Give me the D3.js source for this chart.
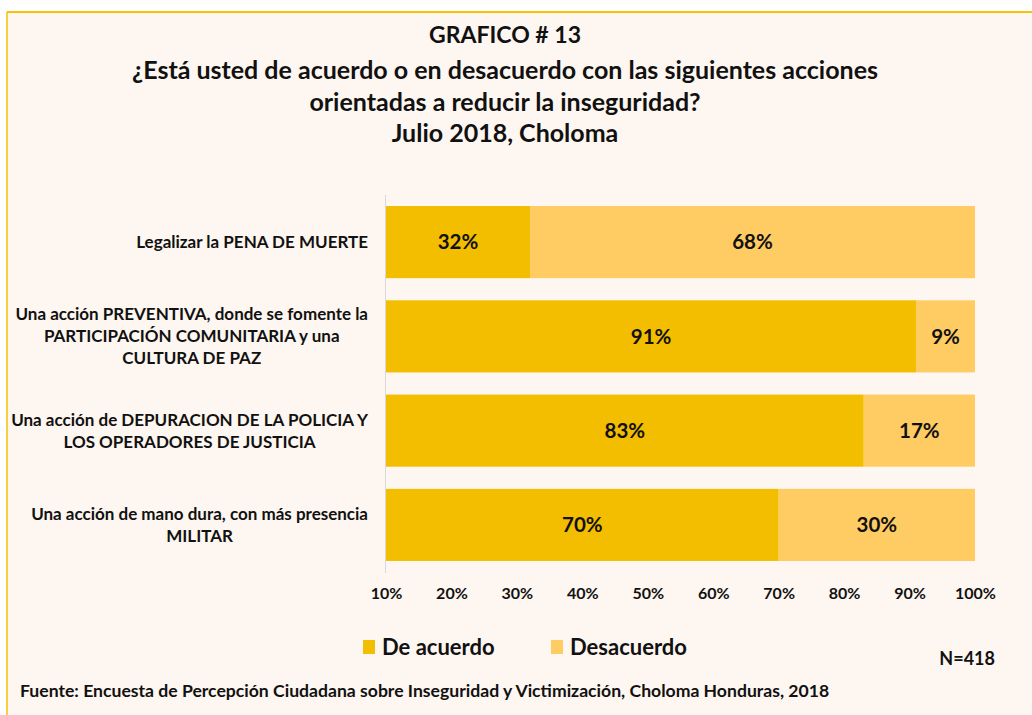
<!DOCTYPE html>
<html>
<head>
<meta charset="utf-8">
<script src="https://cdn.jsdelivr.net/npm/d3@7"></script>
<style>
  body { margin: 0; background: #fff; }
  text { font-family: Lato, "Open Sans", sans-serif; font-weight: bold; fill: #111; }
</style>
</head>
<body>
<script>
// Data
const categories = [
  ["Legalizar la PENA DE MUERTE"],
  ["Una acción PREVENTIVA, donde se fomente la", "PARTICIPACIÓN COMUNITARIA y una", "CULTURA DE PAZ"],
  ["Una acción de DEPURACION DE LA POLICIA Y", "LOS OPERADORES DE JUSTICIA"],
  ["Una acción de mano dura, con más presencia", "MILITAR"]
];
const deAcuerdo = [32, 91, 83, 70];
const desacuerdo = [68, 9, 17, 30];
const seriesNames = ["De acuerdo", "Desacuerdo"];
const tickValues = [10, 20, 30, 40, 50, 60, 70, 80, 90, 100];
const titleLines = [
  "GRAFICO # 13",
  "¿Está usted de acuerdo o en desacuerdo con las siguientes acciones",
  "orientadas a reducir la inseguridad?",
  "Julio 2018, Choloma"
];

const width = 1032, height = 715;
const colors = ["#F3BD00", "#FFCB63"];

const svg = d3.select("body").append("svg")
  .attr("width", width)
  .attr("height", height);

// background panel + border
svg.append("rect").attr("x", 7).attr("y", 12).attr("width", width - 7).attr("height", height - 12)
  .attr("fill", "#FEF6F0");
svg.append("line").attr("x1", 7).attr("x2", width).attr("y1", 12).attr("y2", 12)
  .attr("stroke", "#F5C400").attr("stroke-width", 2);
svg.append("line").attr("x1", 7).attr("x2", 7).attr("y1", 12).attr("y2", height)
  .attr("stroke", "#F5C400").attr("stroke-width", 1.5);

// title
svg.selectAll(".title")
  .data(titleLines)
  .enter().append("text")
  .attr("class", "title")
  .attr("x", 505)
  .attr("y", (d, i) => i === 0 ? 43 : 79 + (i - 1) * 31.5)
  .attr("text-anchor", "middle")
  .style("font-size", (d, i) => i === 0 ? "23px" : "25px")
  .text(d => d);

// scales
const rows = categories.map((c, i) => ({ i, label: c, a: deAcuerdo[i], d: desacuerdo[i] }));

const x = d3.scaleLinear().domain([10, 100]).range([386, 975]).clamp(true);
const y = d3.scaleBand().domain(d3.range(categories.length)).range([195, 572]).paddingInner(0.235).paddingOuter(0.117);

const stack = d3.stack().keys(["a", "d"]);
const stacked = stack(rows);

const groups = svg.selectAll(".series")
  .data(stacked)
  .enter().append("g")
  .attr("fill", (d, i) => colors[i]);

groups.selectAll("rect")
  .data(d => d)
  .enter().append("rect")
  .attr("x", d => x(d[0]))
  .attr("y", d => y(d.data.i))
  .attr("width", d => x(d[1]) - x(d[0]))
  .attr("height", y.bandwidth());

groups.selectAll(".val")
  .data(d => d)
  .enter().append("text")
  .attr("class", "val")
  .attr("x", d => (x(d[0]) + x(d[1])) / 2)
  .attr("y", d => y(d.data.i) + y.bandwidth() / 2)
  .attr("dy", "0.35em")
  .attr("text-anchor", "middle")
  .style("font-size", "20.5px")
  .text(d => (d[1] - d[0]) + "%");

// vertical axis line
svg.append("line")
  .attr("x1", 385.5).attr("x2", 385.5)
  .attr("y1", 195).attr("y2", 573)
  .attr("stroke", "#d9d9d9");

// x axis
const xAxis = svg.append("g")
  .attr("transform", "translate(0,585)")
  .call(d3.axisBottom(x).tickValues(tickValues).tickSize(0).tickFormat(d => d + "%"));
xAxis.select(".domain").remove();
xAxis.selectAll("text")
  .style("font-size", "16px")
  .style("font-family", "Lato, sans-serif")
  .attr("fill", "#111");

// category labels: block right-aligned, lines centered in block
const labelRight = 368;
const lab = svg.append("g");
categories.forEach((lines, i) => {
  const g = lab.append("g");
  const cy = y(i) + y.bandwidth() / 2;
  const lh = 22;
  const t = g.selectAll("text").data(lines).enter().append("text")
    .attr("y", (d, j) => cy + (j - (lines.length - 1) / 2) * lh)
    .attr("dy", "0.35em")
    .attr("text-anchor", "middle")
    .style("font-size", "17px")
    .text(d => d);
  let maxW = 0;
  t.each(function() { maxW = Math.max(maxW, this.getComputedTextLength()); });
  t.attr("x", labelRight - maxW / 2);
});

// legend
const legend = svg.append("g");
const legendX = [363, 551];
seriesNames.forEach((name, i) => {
  legend.append("rect")
    .attr("x", legendX[i]).attr("y", 640)
    .attr("width", 12).attr("height", 14)
    .attr("fill", colors[i]);
  legend.append("text")
    .attr("x", legendX[i] + 19).attr("y", 647)
    .attr("dy", "0.35em")
    .style("font-size", "22px")
    .text(name);
});

// N and source
svg.append("text")
  .attr("x", 995).attr("y", 659).attr("dy", "0.35em")
  .attr("text-anchor", "end")
  .style("font-size", "18px")
  .text("N=418");

svg.append("text")
  .attr("x", 20).attr("y", 691).attr("dy", "0.35em")
  .style("font-size", "17.6px")
  .text("Fuente: Encuesta de Percepción Ciudadana sobre Inseguridad y Victimización, Choloma Honduras, 2018");
</script>
</body>
</html>
